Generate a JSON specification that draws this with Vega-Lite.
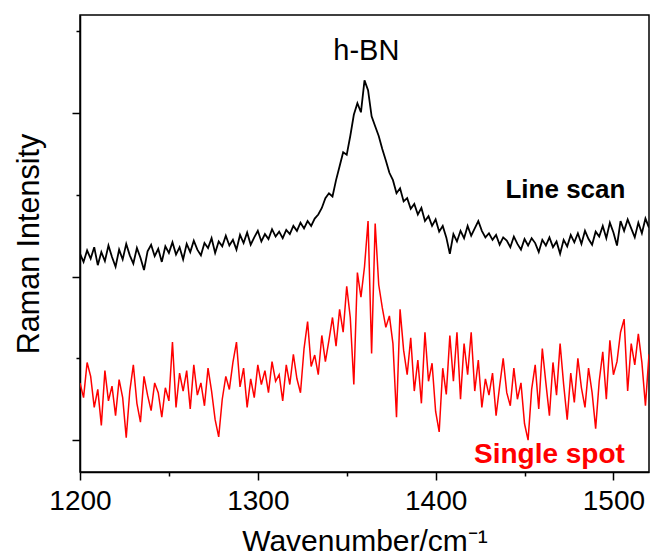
{
  "$schema": "https://vega.github.io/schema/vega-lite/v6.json",
  "width": 569,
  "height": 457,
  "autosize": "none",
  "padding": {"left": 80, "top": 15, "right": 2, "bottom": 87},
  "background": "white",
  "config": {"view": {"stroke": "black", "strokeWidth": 1.5}, "font": "Liberation Sans"},
  "datasets": {
    "lineScan": [
      {"w":1200,"v":228},{"w":1202,"v":218},{"w":1204,"v":232},{"w":1206,"v":222},{"w":1208,"v":236},{"w":1210,"v":214},{"w":1212,"v":230},{"w":1214,"v":219},{"w":1216,"v":238},{"w":1218,"v":224},
      {"w":1220,"v":212},{"w":1222,"v":233},{"w":1224,"v":221},{"w":1226,"v":240},{"w":1228,"v":226},{"w":1230,"v":216},{"w":1232,"v":235},{"w":1234,"v":223},{"w":1236,"v":208},{"w":1238,"v":231},
      {"w":1240,"v":239},{"w":1242,"v":225},{"w":1244,"v":234},{"w":1246,"v":218},{"w":1248,"v":237},{"w":1250,"v":229},{"w":1252,"v":242},{"w":1254,"v":227},{"w":1256,"v":236},{"w":1258,"v":221},
      {"w":1260,"v":240},{"w":1262,"v":230},{"w":1264,"v":244},{"w":1266,"v":233},{"w":1268,"v":226},{"w":1270,"v":241},{"w":1272,"v":235},{"w":1274,"v":247},{"w":1276,"v":229},{"w":1278,"v":243},
      {"w":1280,"v":237},{"w":1282,"v":250},{"w":1284,"v":238},{"w":1286,"v":245},{"w":1288,"v":233},{"w":1290,"v":251},{"w":1292,"v":241},{"w":1294,"v":254},{"w":1296,"v":239},{"w":1298,"v":248},
      {"w":1300,"v":256},{"w":1302,"v":243},{"w":1304,"v":252},{"w":1306,"v":246},{"w":1308,"v":258},{"w":1310,"v":249},{"w":1312,"v":255},{"w":1314,"v":247},{"w":1316,"v":257},{"w":1318,"v":252},
      {"w":1320,"v":262},{"w":1322,"v":256},{"w":1324,"v":266},{"w":1326,"v":259},{"w":1328,"v":268},{"w":1330,"v":262},{"w":1332,"v":271},{"w":1334,"v":276},{"w":1336,"v":284},{"w":1338,"v":296},
      {"w":1340,"v":302},{"w":1342,"v":298},{"w":1344,"v":318},{"w":1346,"v":335},{"w":1348,"v":352},{"w":1350,"v":349},{"w":1352,"v":372},{"w":1354,"v":398},{"w":1356,"v":412},{"w":1358,"v":401},
      {"w":1360,"v":440},{"w":1362,"v":428},{"w":1364,"v":396},{"w":1366,"v":384},{"w":1368,"v":372},{"w":1370,"v":356},{"w":1372,"v":342},{"w":1374,"v":327},{"w":1376,"v":318},{"w":1378,"v":302},
      {"w":1380,"v":308},{"w":1382,"v":292},{"w":1384,"v":296},{"w":1386,"v":283},{"w":1388,"v":289},{"w":1390,"v":276},{"w":1392,"v":284},{"w":1394,"v":268},{"w":1396,"v":274},{"w":1398,"v":262},
      {"w":1400,"v":270},{"w":1402,"v":255},{"w":1404,"v":262},{"w":1406,"v":248},{"w":1408,"v":228},{"w":1410,"v":252},{"w":1412,"v":243},{"w":1414,"v":256},{"w":1416,"v":247},{"w":1418,"v":262},
      {"w":1420,"v":250},{"w":1422,"v":259},{"w":1424,"v":268},{"w":1426,"v":256},{"w":1428,"v":248},{"w":1430,"v":253},{"w":1432,"v":245},{"w":1434,"v":251},{"w":1436,"v":239},{"w":1438,"v":248},
      {"w":1440,"v":244},{"w":1442,"v":236},{"w":1444,"v":249},{"w":1446,"v":240},{"w":1448,"v":233},{"w":1450,"v":246},{"w":1452,"v":238},{"w":1454,"v":247},{"w":1456,"v":241},{"w":1458,"v":230},
      {"w":1460,"v":245},{"w":1462,"v":238},{"w":1464,"v":248},{"w":1466,"v":236},{"w":1468,"v":243},{"w":1470,"v":228},{"w":1472,"v":245},{"w":1474,"v":237},{"w":1476,"v":251},{"w":1478,"v":242},
      {"w":1480,"v":253},{"w":1482,"v":240},{"w":1484,"v":256},{"w":1486,"v":246},{"w":1488,"v":239},{"w":1490,"v":255},{"w":1492,"v":249},{"w":1494,"v":262},{"w":1496,"v":247},{"w":1498,"v":266},
      {"w":1500,"v":254},{"w":1502,"v":238},{"w":1504,"v":268},{"w":1506,"v":256},{"w":1508,"v":270},{"w":1510,"v":259},{"w":1512,"v":248},{"w":1514,"v":266},{"w":1516,"v":253},{"w":1518,"v":271},
      {"w":1520,"v":260}
    ],
    "singleSpot": [
      {"w":1200,"v":70},{"w":1202,"v":52},{"w":1204,"v":95},{"w":1206,"v":78},{"w":1208,"v":40},{"w":1210,"v":62},{"w":1212,"v":18},{"w":1214,"v":85},{"w":1216,"v":48},{"w":1218,"v":66},
      {"w":1220,"v":30},{"w":1222,"v":74},{"w":1224,"v":52},{"w":1226,"v":3},{"w":1228,"v":60},{"w":1230,"v":92},{"w":1232,"v":45},{"w":1234,"v":22},{"w":1236,"v":78},{"w":1238,"v":55},
      {"w":1240,"v":36},{"w":1242,"v":70},{"w":1244,"v":58},{"w":1246,"v":28},{"w":1248,"v":64},{"w":1250,"v":48},{"w":1252,"v":120},{"w":1254,"v":40},{"w":1256,"v":82},{"w":1258,"v":60},
      {"w":1260,"v":85},{"w":1262,"v":38},{"w":1264,"v":92},{"w":1266,"v":55},{"w":1268,"v":70},{"w":1270,"v":42},{"w":1272,"v":88},{"w":1274,"v":60},{"w":1276,"v":25},{"w":1278,"v":4},
      {"w":1280,"v":50},{"w":1282,"v":78},{"w":1284,"v":62},{"w":1286,"v":95},{"w":1288,"v":120},{"w":1290,"v":65},{"w":1292,"v":88},{"w":1294,"v":40},{"w":1296,"v":75},{"w":1298,"v":52},
      {"w":1300,"v":92},{"w":1302,"v":68},{"w":1304,"v":85},{"w":1306,"v":58},{"w":1308,"v":96},{"w":1310,"v":72},{"w":1312,"v":80},{"w":1314,"v":48},{"w":1316,"v":92},{"w":1318,"v":68},
      {"w":1320,"v":105},{"w":1322,"v":75},{"w":1324,"v":58},{"w":1326,"v":112},{"w":1328,"v":145},{"w":1330,"v":90},{"w":1332,"v":104},{"w":1334,"v":80},{"w":1336,"v":128},{"w":1338,"v":96},
      {"w":1340,"v":122},{"w":1342,"v":150},{"w":1344,"v":115},{"w":1346,"v":160},{"w":1348,"v":132},{"w":1350,"v":188},{"w":1352,"v":150},{"w":1354,"v":68},{"w":1356,"v":205},{"w":1358,"v":175},
      {"w":1360,"v":212},{"w":1362,"v":268},{"w":1364,"v":106},{"w":1366,"v":265},{"w":1368,"v":190},{"w":1370,"v":162},{"w":1372,"v":138},{"w":1374,"v":152},{"w":1376,"v":118},{"w":1378,"v":28},
      {"w":1380,"v":160},{"w":1382,"v":110},{"w":1384,"v":80},{"w":1386,"v":125},{"w":1388,"v":60},{"w":1390,"v":98},{"w":1392,"v":45},{"w":1394,"v":132},{"w":1396,"v":72},{"w":1398,"v":94},
      {"w":1400,"v":35},{"w":1402,"v":10},{"w":1404,"v":88},{"w":1406,"v":56},{"w":1408,"v":128},{"w":1410,"v":72},{"w":1412,"v":132},{"w":1414,"v":50},{"w":1416,"v":118},{"w":1418,"v":80},
      {"w":1420,"v":132},{"w":1422,"v":60},{"w":1424,"v":98},{"w":1426,"v":40},{"w":1428,"v":75},{"w":1430,"v":55},{"w":1432,"v":82},{"w":1434,"v":30},{"w":1436,"v":66},{"w":1438,"v":100},
      {"w":1440,"v":58},{"w":1442,"v":42},{"w":1444,"v":88},{"w":1446,"v":50},{"w":1448,"v":70},{"w":1450,"v":20},{"w":1452,"v":0},{"w":1454,"v":62},{"w":1456,"v":92},{"w":1458,"v":38},
      {"w":1460,"v":112},{"w":1462,"v":70},{"w":1464,"v":30},{"w":1466,"v":95},{"w":1468,"v":55},{"w":1470,"v":118},{"w":1472,"v":68},{"w":1474,"v":25},{"w":1476,"v":82},{"w":1478,"v":46},
      {"w":1480,"v":100},{"w":1482,"v":64},{"w":1484,"v":40},{"w":1486,"v":88},{"w":1488,"v":58},{"w":1490,"v":14},{"w":1492,"v":72},{"w":1494,"v":108},{"w":1496,"v":50},{"w":1498,"v":122},
      {"w":1500,"v":80},{"w":1502,"v":96},{"w":1504,"v":132},{"w":1506,"v":148},{"w":1508,"v":60},{"w":1510,"v":118},{"w":1512,"v":92},{"w":1514,"v":130},{"w":1516,"v":95},{"w":1518,"v":42},
      {"w":1520,"v":105}
    ]
  },
  "layer": [
    {
      "data": {"name": "lineScan"},
      "mark": {"type": "line", "color": "black", "strokeWidth": 1.8, "clip": true},
      "encoding": {
        "x": {
          "field": "w", "type": "quantitative",
          "scale": {"domain": [1200, 1520], "nice": false, "zero": false},
          "axis": {
            "title": "Wavenumber/cm⁻¹",
            "values": [1200, 1250, 1300, 1350, 1400, 1450, 1500],
            "format": "d",
            "labelExpr": "datum.value % 100 === 0 ? datum.label : ''",
            "tickSize": {"condition": {"test": "datum.value % 100 === 0", "value": 8}, "value": 4},
            "grid": false,
            "labelFontSize": 28, "titleFontSize": 30, "titleFontWeight": "normal",
            "labelColor": "black", "titleColor": "black",
            "domainColor": "black", "tickColor": "black",
            "domainWidth": 1.5, "tickWidth": 1.5,
            "labelPadding": 7, "titlePadding": 11,
            "labelFlush": false, "labelOverlap": false
          }
        },
        "y": {
          "field": "v", "type": "quantitative",
          "scale": {"domain": [-39, 520], "nice": false, "zero": false},
          "axis": {
            "title": "Raman Intensity",
            "values": [0, 100, 200, 300, 400, 500],
            "labels": false,
            "tickSize": {"condition": {"test": "datum.value % 200 === 0", "value": 8}, "value": 4},
            "grid": false,
            "titleFontSize": 30.5, "titleFontWeight": "normal", "titleColor": "black",
            "domainColor": "black", "tickColor": "black",
            "domainWidth": 1.5, "tickWidth": 1.5,
            "titlePadding": 27
          }
        }
      }
    },
    {
      "data": {"name": "singleSpot"},
      "mark": {"type": "line", "color": "#ff0000", "strokeWidth": 1.5, "clip": true},
      "encoding": {
        "x": {"field": "w", "type": "quantitative"},
        "y": {"field": "v", "type": "quantitative"}
      }
    },
    {
      "data": {"values": [{}]},
      "mark": {"type": "text", "fontSize": 29, "color": "black", "align": "center", "baseline": "alphabetic"},
      "encoding": {"x": {"datum": 1361}, "y": {"datum": 465}, "text": {"value": "h-BN"}}
    },
    {
      "data": {"values": [{}]},
      "mark": {"type": "text", "fontSize": 26, "fontWeight": "bold", "color": "black", "align": "center", "baseline": "alphabetic"},
      "encoding": {"x": {"datum": 1473}, "y": {"datum": 296}, "text": {"value": "Line scan"}}
    },
    {
      "data": {"values": [{}]},
      "mark": {"type": "text", "fontSize": 28, "fontWeight": "bold", "color": "#ff0000", "align": "center", "baseline": "alphabetic"},
      "encoding": {"x": {"datum": 1464}, "y": {"datum": -28}, "text": {"value": "Single spot"}}
    }
  ]
}
